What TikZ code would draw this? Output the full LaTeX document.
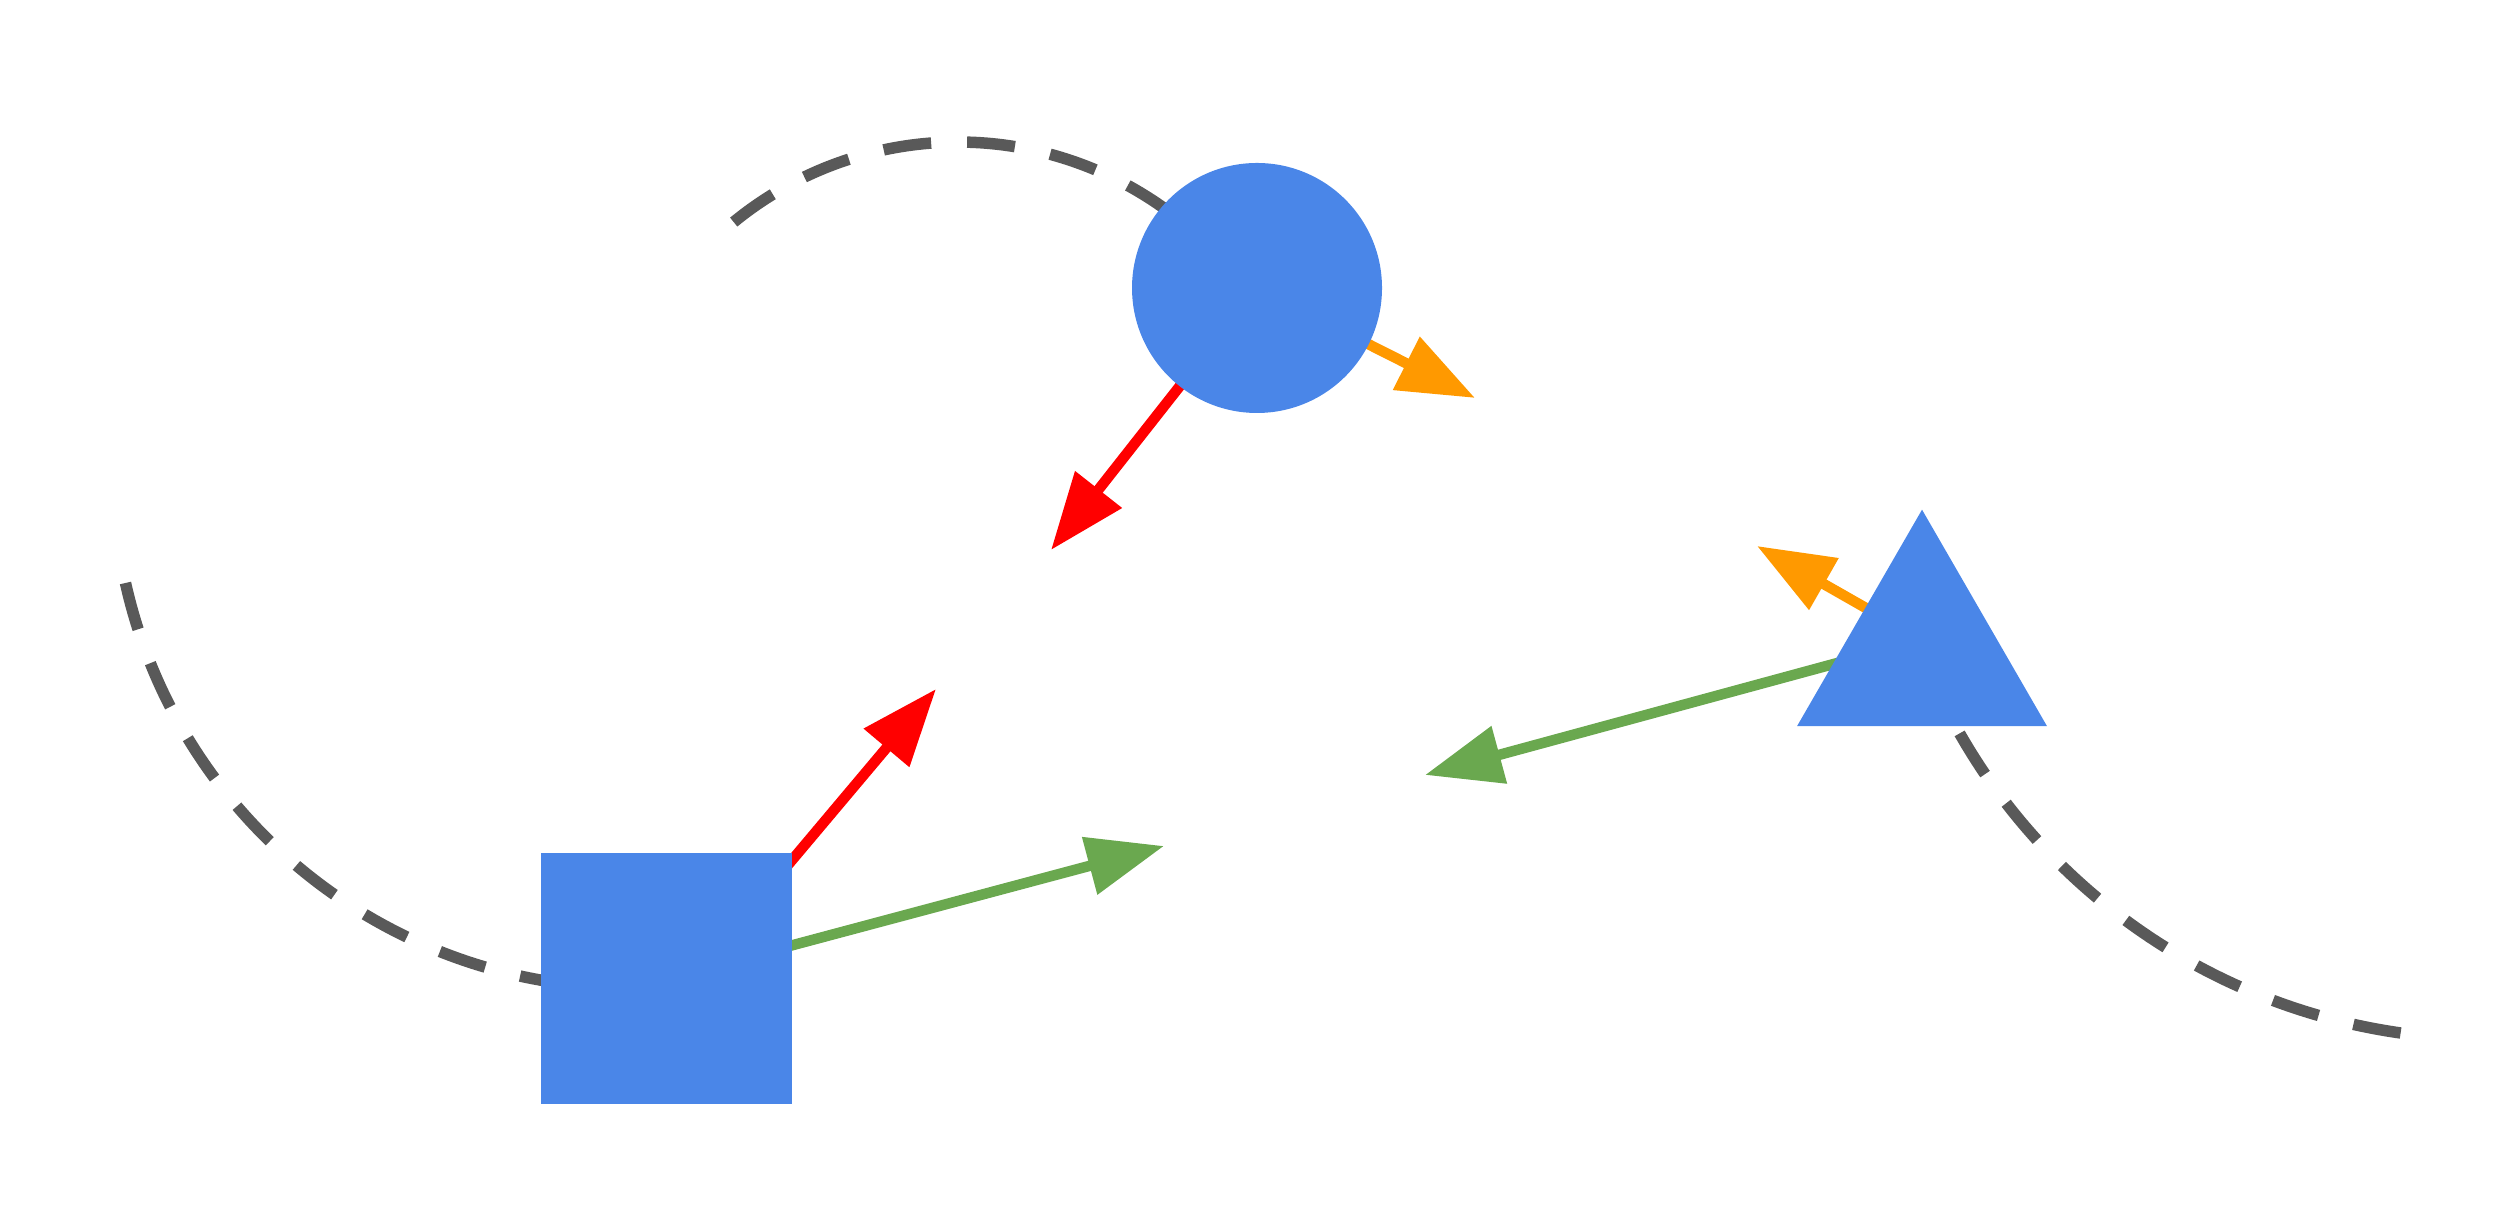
\documentclass[tikz,border=0pt]{standalone}
\usetikzlibrary{arrows.meta, shapes.geometric, backgrounds}

\definecolor{bodyblue}{HTML}{4A86E8}
\definecolor{velgreen}{HTML}{6AA84F}
\definecolor{accorange}{HTML}{FF9900}
\definecolor{trailgray}{HTML}{595959}

\begin{document}
\begin{tikzpicture}[>={Triangle[length=7.7mm, width=5.7mm]},
    body/.style={fill=bodyblue, draw=none, inner sep=0pt, outer sep=0pt},
    vec/.style={->, line width=1.05mm},
    trail/.style={trailgray, line width=1.15mm, dash pattern=on 4.8mm off 3.6mm}]
    \useasboundingbox (0,0) rectangle (25.18,12.10);

    \node[body, rectangle, minimum size=2.51cm] (box) at (6.66,2.31) {};
    \node[body, circle, minimum size=2.5cm] (ball) at (12.57,9.22) {};
    \node[body, regular polygon, regular polygon sides=3, minimum size=2.886cm] (tri) at (19.22,5.56) {};

    % free ends of trails and vectors
    \coordinate (boxtrail) at (1.255,6.27);
    \coordinate (balltrail) at (7.337,9.879);
    \coordinate (tritrail) at (24.006,1.77);
    \coordinate (boxF) at (9.36,5.21);
    \coordinate (boxV) at (11.64,3.64);
    \coordinate (ballF) at (10.51,6.60);
    \coordinate (ballA) at (14.75,8.12);
    \coordinate (triA) at (17.57,6.64);
    \coordinate (triV) at (14.25,4.35);

    \begin{scope}[on background layer]
    \draw[trail] (boxtrail) arc[start angle=192.6, end angle=272, radius=5.18];
    \draw[trail] (balltrail) arc[start angle=129.3, end angle=35, radius=3.54];
    \draw[trail] (tritrail) arc[start angle=261.9, end angle=200, radius=6.06];

    \draw[vec, red] ([xshift=2.6mm]box.center) -- (boxF);
    \draw[vec, velgreen] (box.center) -- (boxV);
    \draw[vec, red] (ball.center) -- (ballF);
    \draw[vec, accorange] (ball.center) -- (ballA);
    \draw[vec, accorange] ([yshift=1.4mm]tri.center) -- (triA);
    \draw[vec, velgreen] ([yshift=1.4mm]tri.center) -- (triV);
    \end{scope}
\end{tikzpicture}
\end{document}
